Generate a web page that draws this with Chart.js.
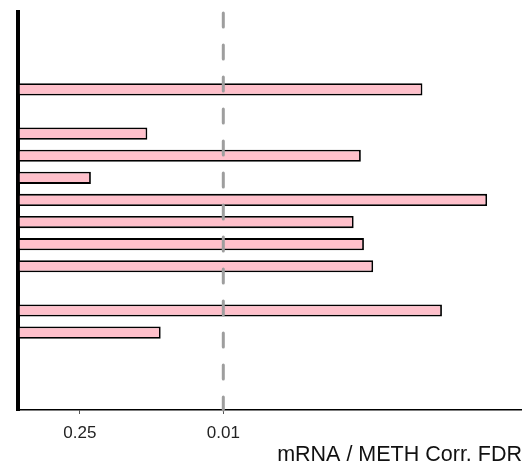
<!DOCTYPE html>
<html><head><meta charset="utf-8">
<script src="https://cdn.jsdelivr.net/npm/chart.js@4"></script>
<style>html,body{margin:0;padding:0;background:#fff}#wrap{width:522px;height:466px;position:relative}</style>
</head><body><div id="wrap"><canvas id="c"></canvas></div>
<script>
// Rows (top to bottom); empty rows have no bar
const categories = ['r1','r2','r3','r4','r5','r6','r7','r8','r9','r10','r11','r12','r13','r14','r15','r16','r17','r18'];
// -log10(FDR) per row
const negLog10FDR = [null, null, null, 3.94, null, 1.26, 3.34, 0.71, 4.57, 3.27, 3.37, 3.46, null, 4.13, 1.39, null, null, null];
// FDR tick labels
const tickFDR = [0.25, 0.01];
const thresholdFDR = 0.01;
const axisTitle = 'mRNA / METH Corr. FDR';
const xMax = 4.91;

const FONT = "'Liberation Sans', Arial, sans-serif";

const thresholdLine = {
  id: 'thresholdLine',
  afterDatasetsDraw(chart) {
    const {ctx, chartArea, scales} = chart;
    const x = scales.x.getPixelForValue(-Math.log10(thresholdFDR));
    ctx.save();
    ctx.strokeStyle = '#9e9e9e';
    ctx.lineWidth = 3;
    ctx.lineCap = 'round';
    ctx.setLineDash([14, 18]);
    ctx.beginPath();
    ctx.moveTo(x, chartArea.top + 1);
    ctx.lineTo(x, chartArea.bottom);
    ctx.stroke();
    ctx.restore();
  }
};

new Chart(document.getElementById('c'), {
  type: 'bar',
  data: {
    labels: categories,
    datasets: [{
      data: negLog10FDR,
      backgroundColor: '#FFC0CB',
      borderColor: '#000000',
      borderWidth: 1.8,
      borderSkipped: false,
      categoryPercentage: 1,
      barPercentage: 0.55
    }]
  },
  options: {
    indexAxis: 'y',
    responsive: true,
    maintainAspectRatio: false,
    animation: false,
    layout: {padding: {top: 12, right: 0, left: 0, bottom: 0}},
    plugins: {legend: {display: false}, tooltip: {enabled: false}},
    scales: {
      y: {
        type: 'category',
        ticks: {display: false},
        grid: {display: false},
        border: {display: true, color: '#000', width: 4},
        afterFit(s) { s.width = 18; }
      },
      x: {
        type: 'linear',
        min: 0,
        max: xMax,
        afterBuildTicks(s) { s.ticks = tickFDR.map(v => ({value: -Math.log10(v)})); },
        afterFit(s) { s.height = 56; },
        ticks: {
          color: '#222',
          font: {family: FONT, size: 17, lineHeight: 1},
          padding: 10.5,
          maxRotation: 0,
          autoSkip: false,
          callback(value) {
            const m = tickFDR.find(v => Math.abs(-Math.log10(v) - value) < 1e-6);
            return m === undefined ? '' : String(m);
          }
        },
        grid: {display: true, drawOnChartArea: false, drawTicks: true, tickLength: 4, color: '#555', lineWidth: 1},
        border: {display: true, color: '#000', width: 1.5},
        title: {display: true, text: axisTitle, align: 'end', color: '#111', font: {family: FONT, size: 21.5, lineHeight: 1}, padding: {top: 0, bottom: 0.5}}
      }
    }
  },
  plugins: [thresholdLine]
});
</script>
</body></html>
